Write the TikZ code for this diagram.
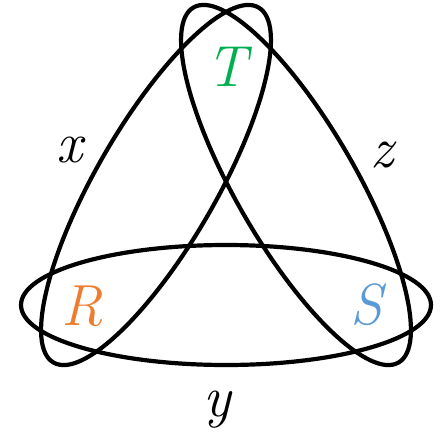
\documentclass[tikz,border=0pt]{standalone}
\usepackage{fontspec}
\usepackage{xcolor}
\usepackage{tikz}
\usetikzlibrary{shapes.geometric}

\definecolor{tgreen}{RGB}{0,176,80}
\definecolor{rorange}{RGB}{237,125,49}
\definecolor{sblue}{RGB}{91,155,213}

\begin{document}
\begin{tikzpicture}[x=1pt, y=1pt,
    hedge/.style={ellipse, draw, line width=4.2pt, minimum width=410pt, minimum height=120pt, inner sep=0pt},
    lbl/.style={inner sep=0pt, font=\fontsize{58}{60}\selectfont\itshape}]
    \useasboundingbox (-226,-207) rectangle (216,225);

    % the three hyperedges
    \node[hedge] (Y) at (0,-80) {};
    \node[hedge, rotate=60] (X) at (-70,40) {};
    \node[hedge, rotate=-60] (Z) at (70,40) {};

    % vertices
    \node[lbl, text=tgreen] (T) at (1,158) {T};
    \node[lbl, text=rorange] (R) at (-144,-81) {R};
    \node[lbl, text=sblue] (S) at (140,-80) {S};

    % edge names
    \node[lbl] (xl) at (-156,75) {x};
    \node[lbl] (zl) at (156,70) {z};
    \node[lbl] (yl) at (-9,-185) {y};
\end{tikzpicture}
\end{document}
